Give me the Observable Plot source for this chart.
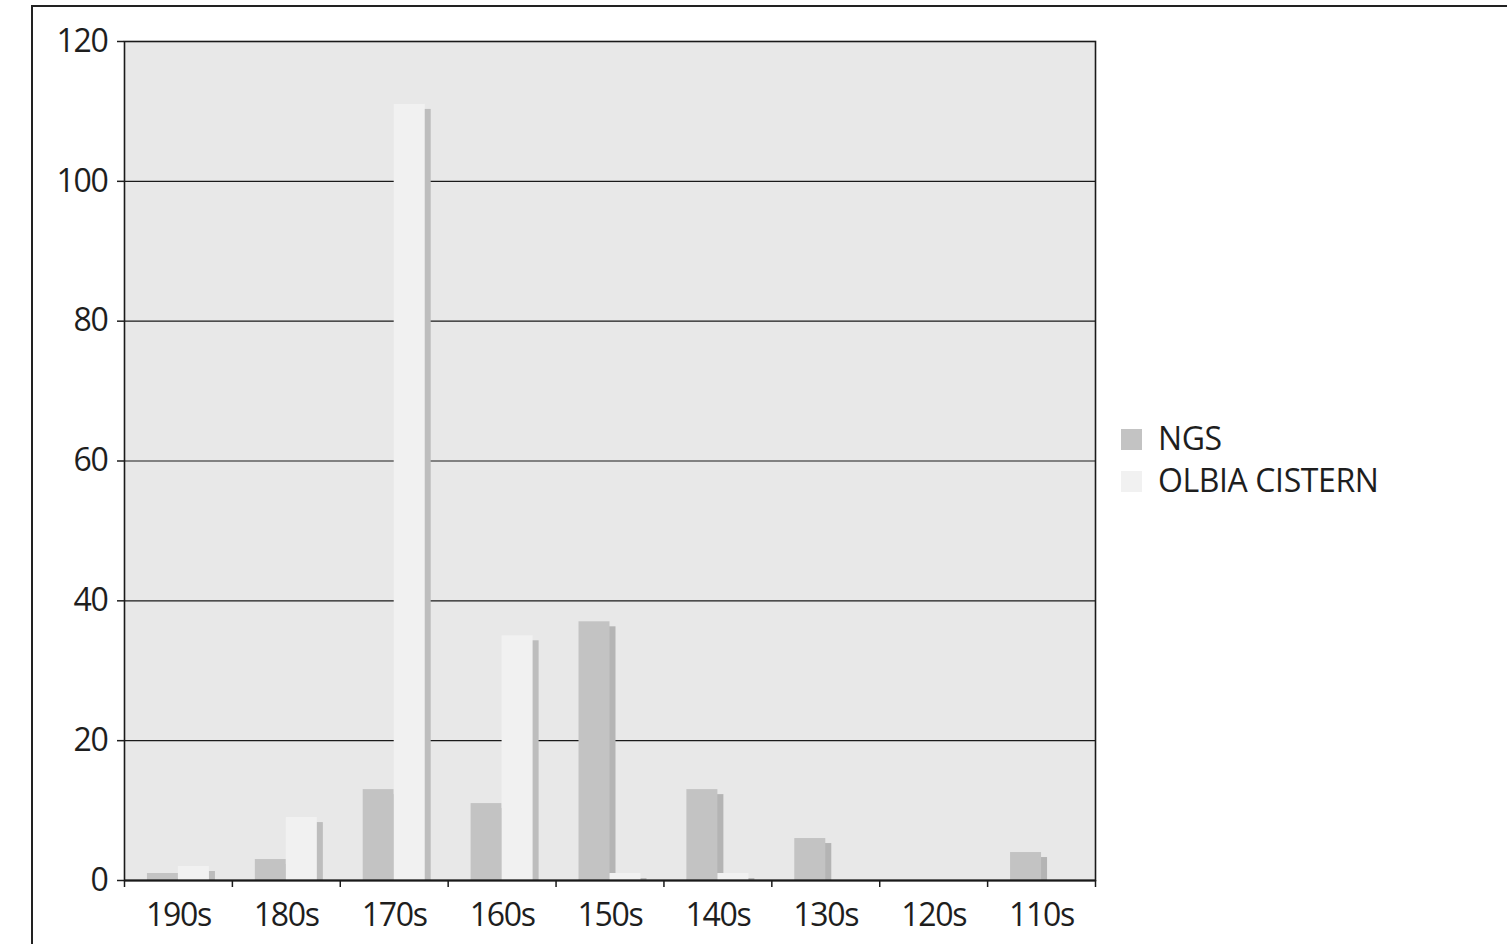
<!DOCTYPE html>
<html><head><meta charset="utf-8">
<script src="https://cdn.jsdelivr.net/npm/d3@7"></script>
<script src="https://cdn.jsdelivr.net/npm/@observablehq/plot@0.6"></script>
<style>
body{margin:0;background:#fff;font-family:"Open Sans",sans-serif;color:#1e1e1e;}
#wrap{position:relative;width:1507px;height:944px;overflow:hidden;background:#fff;}
#frame{position:absolute;left:31px;top:5px;width:2000px;height:2000px;border-top:2px solid #222;border-left:2px solid #222;box-sizing:border-box;}
#chart{position:absolute;left:0;top:0;}
.lg{position:absolute;font-size:32px;line-height:32px;letter-spacing:-0.4px;white-space:nowrap;}
.sw{position:absolute;width:21px;height:21px;}
</style>
</head><body>
<div id="wrap"><div id="frame"></div><div id="chart"></div><div id="legend"></div></div>
<script>
const categories = ["190s","180s","170s","160s","150s","140s","130s","120s","110s"];
const seriesNames = ["NGS","OLBIA CISTERN"];
const ngsValues = [1,3,13,11,37,13,6,0,4];
const olbiaValues = [2,9,111,35,1,1,0,0,0];
const yTicks = [0,20,40,60,80,100,120];
const seriesColors = ["#c3c3c3","#f1f1f1"];
const shadowColors = ["#b4b4b4","#bdbdbd"];

const rowsNgs = categories.map((c,i)=>({decade:c, series:seriesNames[0], value:ngsValues[i]}));
const rowsOlbia = categories.map((c,i)=>({decade:c, series:seriesNames[1], value:olbiaValues[i]}));

const W = 1507, H = 944, mL = 124, mR = 412, mT = 41, mB = 64;
const bw = (W - mL - mR) / categories.length;
const half = bw / 2, barW = 31;

const chart = Plot.plot({
  width: W, height: H,
  marginLeft: mL, marginRight: mR, marginTop: mT, marginBottom: mB,
  x: {domain: categories, padding: 0, round: false, axis: null},
  y: {domain: [0, 120], axis: null},
  style: {fontFamily: '"Open Sans", sans-serif', fontSize: "32px", background: "transparent", color: "#1e1e1e", overflow: "visible"},
  marks: [
    Plot.frame({fill: "#e8e8e8", stroke: null}),
    Plot.ruleY(yTicks.filter(d => d > 0 && d < 120), {y: d => d, stroke: "#1a1a1a", strokeWidth: 1.2}),
    // shadows
    Plot.barY(rowsNgs, {x: "decade", y: "value", fill: shadowColors[0], insetLeft: half - barW, insetRight: half, dx: 6, insetTop: 5}),
    Plot.barY(rowsOlbia, {x: "decade", y: "value", fill: shadowColors[1], insetLeft: half, insetRight: half - barW, dx: 6, insetTop: 5}),
    // bars
    Plot.barY(rowsNgs, {x: "decade", y: "value", fill: seriesColors[0], insetLeft: half - barW, insetRight: half}),
    Plot.barY(rowsOlbia, {x: "decade", y: "value", fill: seriesColors[1], insetLeft: half, insetRight: half - barW}),
    Plot.frame({stroke: "#1a1a1a", strokeWidth: 1.6}),
    Plot.ruleY([0], {stroke: "#1a1a1a", strokeWidth: 2.2}),
    Plot.axisY({ticks: yTicks, tickSize: 7, tickPadding: 10, label: null, fontSize: 32, tickFormat: d => String(d), strokeWidth: 1.5}),
    Plot.axisX({tickSize: 0, tickPadding: 23, label: null, fontSize: 32}),
    // boundary ticks on x axis
    Plot.ruleX(categories, {x: d => d, dx: -half, y1: 0, y2: 0, insetBottom: -7, stroke: "#1a1a1a", strokeWidth: 1.5}),
    Plot.ruleX(categories.slice(-1), {x: d => d, dx: half, y1: 0, y2: 0, insetBottom: -7, stroke: "#1a1a1a", strokeWidth: 1.5})
  ]
});
chart.querySelectorAll("text").forEach(t => t.setAttribute("letter-spacing", "-1.3"));
document.getElementById("chart").appendChild(chart);

const legend = document.getElementById("legend");
const legendTops = [429, 471];
seriesNames.forEach((name, i) => {
  const sw = document.createElement("div");
  sw.className = "sw";
  sw.style.left = "1121px";
  sw.style.top = legendTops[i] + "px";
  sw.style.background = seriesColors[i];
  legend.appendChild(sw);
  const tx = document.createElement("div");
  tx.className = "lg";
  tx.style.left = "1158px";
  tx.style.top = (legendTops[i] - 7.5) + "px";
  tx.textContent = name;
  legend.appendChild(tx);
});
</script>
</body></html>
